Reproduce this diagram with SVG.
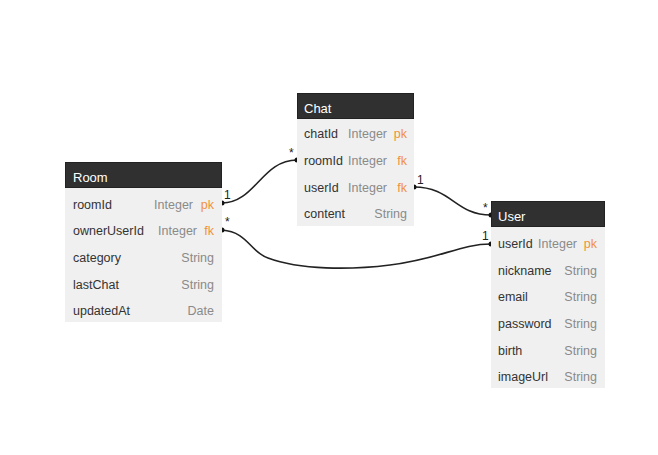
<svg xmlns="http://www.w3.org/2000/svg" width="658" height="455" viewBox="0 0 658 455">
<style>
.hd{fill:#303030;stroke:#222;stroke-width:1}
.bd{fill:#f0f0f0}
.ht{font-family:"Liberation Sans",Arial,sans-serif;font-size:13px;fill:#ffffff}
.n{font-family:"Liberation Sans",Arial,sans-serif;font-size:12.5px;fill:#333}
.t{font-family:"Liberation Sans",Arial,sans-serif;font-size:12.5px;fill:#8a8a8a}
.k{font-family:"Liberation Sans",Arial,sans-serif;font-size:12.5px;fill:#f0903a}
.c{fill:none;stroke:#222;stroke-width:1.6}
.d{fill:#111}
.lb{font-family:"Liberation Sans",Arial,sans-serif;font-size:12px;fill:#222}
</style>
<rect width="658" height="455" fill="#ffffff"/>
<g id="connectors">
<path class="c" d="M222,203 C255,203 262,160 297,160"/>
<circle class="d" cx="222" cy="203" r="2.5"/><circle class="d" cx="297" cy="160" r="2.5"/>
<text class="lb" x="224" y="199">1</text><text class="lb" x="289" y="157">*</text>
<path class="c" d="M414,187 C452,187 455,215 491,215"/>
<circle class="d" cx="414" cy="187" r="2.5"/><circle class="d" cx="491" cy="215" r="2.5"/>
<text class="lb" x="417" y="184">1</text><text class="lb" x="483" y="212">*</text>
<path class="c" d="M222,230 C248,232 250,252 268,258 C300,270 350,270 390,265 C440,259 460,244 491,244"/>
<circle class="d" cx="222" cy="230" r="2.5"/><circle class="d" cx="491" cy="244" r="2.5"/>
<text class="lb" x="225" y="226">*</text><text class="lb" x="482" y="240">1</text>
</g>
<g id="room">
<rect class="bd" x="65" y="188" width="157" height="134"/>
<rect class="hd" x="65.5" y="162.5" width="156" height="25"/>
<text class="ht" x="73" y="182">Room</text>
<text class="n" x="73" y="209">roomId</text><text class="t" x="193" y="209" text-anchor="end">Integer</text><text class="k" x="214" y="209" text-anchor="end">pk</text>
<text class="n" x="73" y="235">ownerUserId</text><text class="t" x="197" y="235" text-anchor="end">Integer</text><text class="k" x="214" y="235" text-anchor="end">fk</text>
<text class="n" x="73" y="262">category</text><text class="t" x="214" y="262" text-anchor="end">String</text>
<text class="n" x="73" y="289">lastChat</text><text class="t" x="214" y="289" text-anchor="end">String</text>
<text class="n" x="73" y="315">updatedAt</text><text class="t" x="214" y="315" text-anchor="end">Date</text>
</g>
<g id="chat">
<rect class="bd" x="297" y="119" width="117" height="107"/>
<rect class="hd" x="297.5" y="93.5" width="116" height="25"/>
<text class="ht" x="304" y="113">Chat</text>
<text class="n" x="304" y="138">chatId</text><text class="t" x="387" y="138" text-anchor="end">Integer</text><text class="k" x="407" y="138" text-anchor="end">pk</text>
<text class="n" x="304" y="165">roomId</text><text class="t" x="387" y="165" text-anchor="end">Integer</text><text class="k" x="407" y="165" text-anchor="end">fk</text>
<text class="n" x="304" y="192">userId</text><text class="t" x="387" y="192" text-anchor="end">Integer</text><text class="k" x="407" y="192" text-anchor="end">fk</text>
<text class="n" x="304" y="218">content</text><text class="t" x="407" y="218" text-anchor="end">String</text>
</g>
<g id="user">
<rect class="bd" x="491" y="227" width="114" height="161"/>
<rect class="hd" x="491.5" y="201.5" width="113" height="25"/>
<text class="ht" x="498" y="221">User</text>
<text class="n" x="498" y="248">userId</text><text class="t" x="577" y="248" text-anchor="end">Integer</text><text class="k" x="597" y="248" text-anchor="end">pk</text>
<text class="n" x="498" y="275">nickname</text><text class="t" x="597" y="275" text-anchor="end">String</text>
<text class="n" x="498" y="301">email</text><text class="t" x="597" y="301" text-anchor="end">String</text>
<text class="n" x="498" y="328">password</text><text class="t" x="597" y="328" text-anchor="end">String</text>
<text class="n" x="498" y="355">birth</text><text class="t" x="597" y="355" text-anchor="end">String</text>
<text class="n" x="498" y="381">imageUrl</text><text class="t" x="597" y="381" text-anchor="end">String</text>
</g>
</svg>
